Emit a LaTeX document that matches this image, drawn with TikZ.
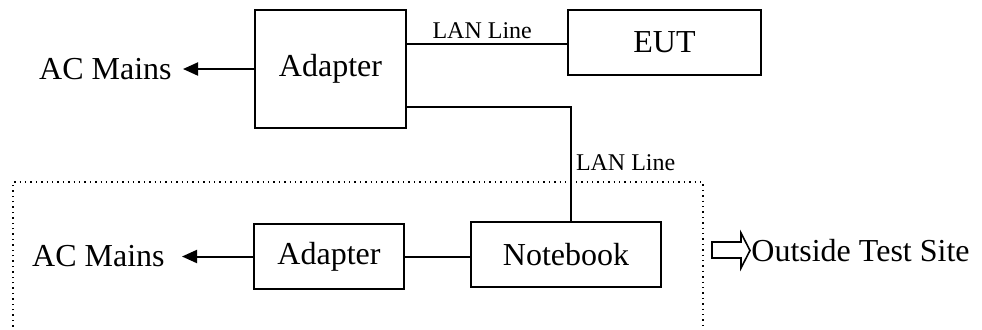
\documentclass[tikz,border=0pt]{standalone}
\usepackage{fontspec}
\setmainfont{Liberation Serif}
\usetikzlibrary{arrows.meta,calc}

\tikzset{
  unit/.style={draw,line width=1pt,inner sep=0pt,font=\fontsize{16}{19}\selectfont},
  mains/.style={inner ysep=0pt,anchor=east,font=\fontsize{16}{19}\selectfont},
  lan/.style={font=\fontsize{12}{14}\selectfont,inner sep=2pt},
  wire/.style={line width=1pt},
  feed/.style={line width=1pt,-{Triangle[length=7.5pt,width=6.5pt]}}
}

\begin{document}
\begin{tikzpicture}[x=0.5pt,y=-0.5pt]
\useasboundingbox (0,0) rectangle (982,329);
%\draw[step=50,gray,very thin] (0,0) grid (982,329);
\node[unit,minimum width=75.5pt,minimum height=59pt] (adtop) at (330.5,69) {Adapter};
\node[unit,minimum width=96.5pt,minimum height=32.5pt] (eut) at (664.5,42.5) {EUT};
\node[unit,minimum width=75pt,minimum height=32.5pt] (adbot) at (329,256.5) {Adapter};
\node[unit,minimum width=95pt,minimum height=32.5pt] (nb) at (566,254.5) {Notebook};
\node[mains,inner xsep=5.5pt] (acmtop) at (183,69) {AC Mains};
\node[mains,inner xsep=8.5pt] (acmbot) at (182,256.5) {AC Mains};
\draw[feed] (adtop.west) -- (acmtop.east);
\draw[feed] (adbot.west) -- (acmbot.east);
\draw[wire] ($(adtop.north east)+(0,35)$) coordinate (lantop)
  -- node[lan,above,pos=0.47] {LAN Line} (lantop -| eut.west);
\draw[wire] ($(adtop.south east)+(0,-22)$) coordinate (lanbot)
  -| node[lan,right,pos=0.745] {LAN Line} ($(nb.north)+(5,0)$);
\draw[wire] (adbot.east) -- (adbot.east -| nb.west);
% outside test site
\draw[dotted,line width=0.7pt] (13,332) |- (703,182) -- (703,332);
\draw[line width=0.8pt] (712,242) -- (741,242) -- (741,233) -- (750,250.5)
  -- (741,268) -- (741,258) -- (712,258) -- cycle;
\node[anchor=west,inner sep=0pt,font=\fontsize{16}{19}\selectfont] (site) at (751,251) {Outside Test Site};
\end{tikzpicture}
\end{document}
